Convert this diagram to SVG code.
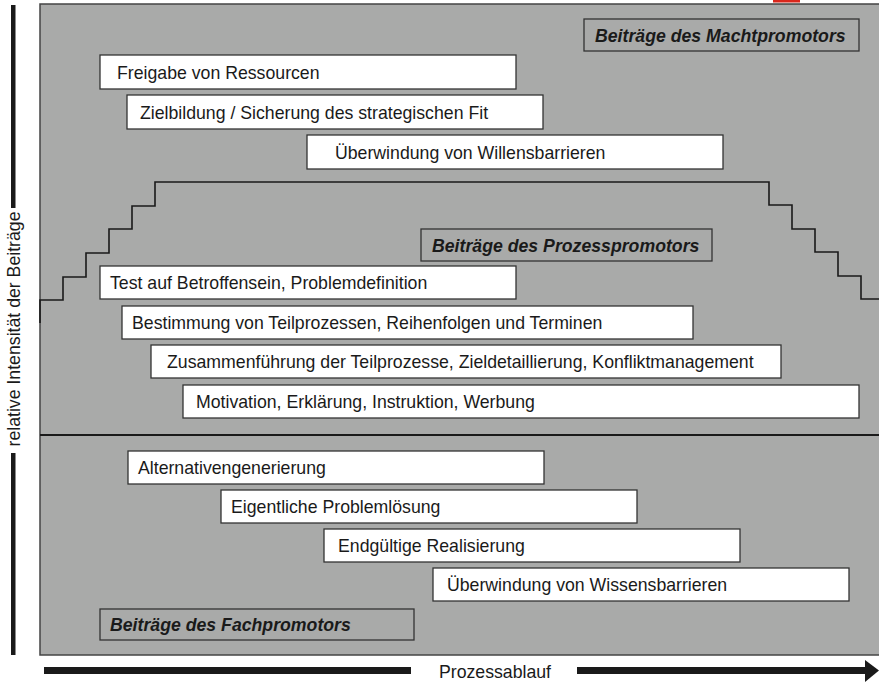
<svg xmlns="http://www.w3.org/2000/svg" width="879" height="684" viewBox="0 0 879 684">
<style>
text{font-family:"Liberation Sans",Arial,sans-serif;font-size:17.7px;fill:#1a1a1a}
.box{fill:#fff;stroke:#333;stroke-width:1.3}
.lbl{fill:none;stroke:#333;stroke-width:1.3}
.lt{font-weight:bold;font-style:italic}
.bar{fill:#1a1a1a}
</style>
<rect x="0" y="0" width="879" height="684" fill="#fff"/>
<rect x="773" y="0" width="27" height="2.5" fill="#d9261c"/>
<rect id="panel" x="40" y="4" width="845" height="651" fill="#a9aaa9" stroke="#444" stroke-width="1.5"/>
<g id="connectors" fill="none" stroke="#1a1a1a">
<line x1="40" y1="435" x2="879" y2="435" stroke-width="2.2"/>
<path d="M40,323 V300 H63 V277 H86 V253 H109 V229 H132 V206 H155 V182 H769 V205 H792 V229 H815 V252 H838 V276 H861 V299 H879" stroke-width="1.6"/>
</g>
<g id="axis-y">
<rect class="bar" x="11" y="5" width="4.5" height="203"/>
<rect class="bar" x="11" y="453" width="4.5" height="202"/>
<text transform="translate(20,329) rotate(-90)" text-anchor="middle">relative Intensität der Beiträge</text>
</g>
<g id="axis-x">
<rect class="bar" x="44" y="667" width="367" height="7"/>
<rect class="bar" x="577" y="667" width="290" height="7"/>
<polygon class="bar" points="865,660 879,670.5 865,682"/>
<text x="495" y="678" text-anchor="middle">Prozessablauf</text>
</g>
<g id="label-macht"><rect class="lbl" x="584" y="19" width="275" height="32"/><text class="lt" x="595" y="41.5">Beiträge des Machtpromotors</text></g>
<g id="n1"><rect class="box" x="100" y="55" width="416" height="34"/><text x="117" y="78.5">Freigabe von Ressourcen</text></g>
<g id="n2"><rect class="box" x="127" y="95" width="416" height="34"/><text x="140" y="118.5">Zielbildung / Sicherung des strategischen Fit</text></g>
<g id="n3"><rect class="box" x="307" y="135" width="416" height="34"/><text x="335" y="158.5">Überwindung von Willensbarrieren</text></g>
<g id="label-prozess"><rect class="lbl" x="421" y="229" width="291" height="32"/><text class="lt" x="432" y="251.5">Beiträge des Prozesspromotors</text></g>
<g id="n4"><rect class="box" x="100" y="266" width="416" height="33"/><text x="110" y="289">Test auf Betroffensein, Problemdefinition</text></g>
<g id="n5"><rect class="box" x="122" y="306" width="571" height="33"/><text x="132" y="329">Bestimmung von Teilprozessen, Reihenfolgen und Terminen</text></g>
<g id="n6"><rect class="box" x="151" y="345" width="630" height="33"/><text x="167" y="368">Zusammenführung der Teilprozesse, Zieldetaillierung, Konfliktmanagement</text></g>
<g id="n7"><rect class="box" x="183" y="385" width="676" height="33"/><text x="196" y="408">Motivation, Erklärung, Instruktion, Werbung</text></g>
<g id="n8"><rect class="box" x="128" y="451" width="416" height="33"/><text x="138" y="474">Alternativengenerierung</text></g>
<g id="n9"><rect class="box" x="221" y="490" width="416" height="33"/><text x="231" y="513">Eigentliche Problemlösung</text></g>
<g id="n10"><rect class="box" x="324" y="529" width="416" height="33"/><text x="338" y="552">Endgültige Realisierung</text></g>
<g id="n11"><rect class="box" x="433" y="568" width="416" height="33"/><text x="447" y="591">Überwindung von Wissensbarrieren</text></g>
<g id="label-fach"><rect class="lbl" x="100" y="609" width="314" height="31"/><text class="lt" x="110" y="631">Beiträge des Fachpromotors</text></g>
</svg>
